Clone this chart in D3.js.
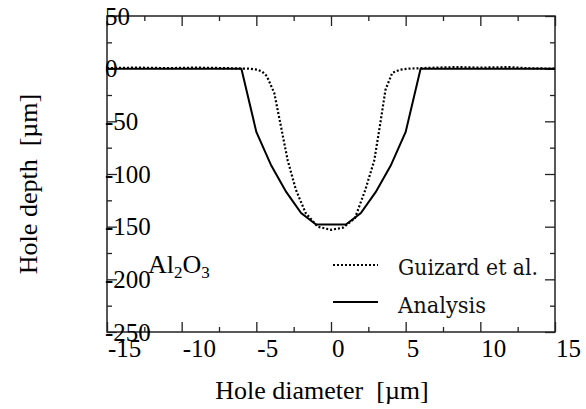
<!DOCTYPE html>
<html>
<head>
<meta charset="utf-8">
<script src="https://cdn.jsdelivr.net/npm/d3@7"></script>
<style>
  body { margin: 0; background: #fff; }
</style>
</head>
<body>
<div id="chart"></div>
<script>
// Data
var xTicks = [-15, -10, -5, 0, 5, 10, 15];
var yTicks = [50, 0, -50, -100, -150, -200, -250];
var seriesNames = ['Guizard et al.', 'Analysis'];

var guizardX = [-15, -13, -11, -9, -7, -5.5, -4.9, -4.6, -4.3, -3.8, -3.35, -2.9, -2.35, -1.7, -0.9, 0, 0.8, 1.6, 2.3, 2.9, 3.3, 3.65, 4.1, 4.6, 5.2, 7, 8.5, 10, 12, 13, 15];
var guizardY = [0.5, 1, 0.5, 1, 0.5, 0, -1, -3, -7, -23, -55, -87, -115, -137, -150, -153, -151, -142, -115, -87, -52, -20, -4, -1, 0, 1, 1.5, 1, 1.5, 0.5, 0];

var analysisX = [-15, -6, -5, -4, -3, -2, -1, 1, 2, 3, 4, 5, 6, 15];
var analysisY = [0, 0, -60, -92, -117, -137, -148, -148, -137, -117, -92, -60, 0, 0];

var attrs = {
  svgWidth: 586,
  svgHeight: 409,
  left: 107,
  right: 555,
  top: 16,
  bottom: 332,
  tickFont: 25,
  titleFont: 26,
  font: '"Liberation Serif", "Times New Roman", serif',
  legendFont: '"DejaVu Serif", serif',
  color: '#000'
};

var svg = d3.select('#chart').append('svg')
  .attr('width', attrs.svgWidth)
  .attr('height', attrs.svgHeight)
  .attr('font-family', attrs.font);

// scales
var x = d3.scaleLinear().domain([-15, 15]).range([attrs.left, attrs.right]);
var y = d3.scaleLinear().domain([-250, 50]).range([attrs.bottom, attrs.top]);

var minorX = d3.range(-12.5, 15, 5);
var minorY = d3.range(25, -250, -50);

// axes - inward ticks on all four sides
var axes = svg.append('g');

function tickSet(axis, pos, vals, size) {
  axes.append('g').attr('transform', pos)
    .call(axis.tickValues(vals).tickSize(-size).tickFormat(''))
    .call(g => g.select('.domain').remove());
}
tickSet(d3.axisBottom(x), 'translate(0,' + attrs.bottom + ')', xTicks, 10);
tickSet(d3.axisBottom(x), 'translate(0,' + attrs.bottom + ')', minorX, 5);
tickSet(d3.axisTop(x), 'translate(0,' + attrs.top + ')', xTicks, 10);
tickSet(d3.axisTop(x), 'translate(0,' + attrs.top + ')', minorX, 5);
tickSet(d3.axisLeft(y), 'translate(' + attrs.left + ',0)', yTicks, 10);
tickSet(d3.axisLeft(y), 'translate(' + attrs.left + ',0)', minorY, 5);
tickSet(d3.axisRight(y), 'translate(' + attrs.right + ',0)', yTicks, 10);
tickSet(d3.axisRight(y), 'translate(' + attrs.right + ',0)', minorY, 5);

axes.selectAll('line').attr('stroke', '#222').attr('stroke-width', 1.3);

axes.append('rect')
  .attr('x', attrs.left).attr('y', attrs.top)
  .attr('width', attrs.right - attrs.left)
  .attr('height', attrs.bottom - attrs.top)
  .attr('fill', 'none')
  .attr('stroke', '#222')
  .attr('stroke-width', 1.5);

// tick labels, hung off the tick (start-anchored) like the original
svg.append('g').selectAll('text').data(xTicks).join('text')
  .attr('x', d => x(d) + 1)
  .attr('y', attrs.bottom + 25)
  .attr('font-size', attrs.tickFont)
  .attr('fill', attrs.color)
  .text(d => d < 0 ? '-' + Math.abs(d) : d);

svg.append('g').selectAll('text').data(yTicks).join('text')
  .attr('x', attrs.left - 2)
  .attr('y', d => y(d))
  .attr('dy', '0.35em')
  .attr('font-size', attrs.tickFont)
  .attr('fill', attrs.color)
  .text(d => d < 0 ? '-' + Math.abs(d) : d);

// axis titles
svg.append('text')
  .attr('x', 322).attr('y', 399)
  .attr('text-anchor', 'middle')
  .attr('font-size', attrs.titleFont)
  .attr('xml:space', 'preserve')
  .text('Hole diameter  [\u00b5m]');

svg.append('text')
  .attr('transform', 'translate(37,184) rotate(-90)')
  .attr('text-anchor', 'middle')
  .attr('font-size', attrs.titleFont)
  .attr('xml:space', 'preserve')
  .text('Hole depth  [\u00b5m]');

// lines
var line = d3.line().x(d => x(d[0])).y(d => y(d[1]));

svg.append('path')
  .datum(d3.zip(guizardX, guizardY))
  .attr('d', line)
  .attr('fill', 'none')
  .attr('stroke', attrs.color)
  .attr('stroke-width', 2.2)
  .attr('stroke-dasharray', '2,2');

svg.append('path')
  .datum(d3.zip(analysisX, analysisY))
  .attr('d', line)
  .attr('fill', 'none')
  .attr('stroke', attrs.color)
  .attr('stroke-width', 2);

// material label
var mat = svg.append('text')
  .attr('x', 148).attr('y', 273)
  .attr('font-size', 26)
  .attr('fill', attrs.color);
mat.append('tspan').text('Al');
mat.append('tspan').attr('font-size', 17).attr('dy', 5).text('2');
mat.append('tspan').attr('dy', -5).text('O');
mat.append('tspan').attr('font-size', 17).attr('dy', 5).text('3');

// legend
var legend = svg.append('g');
var legendRows = [
  { name: seriesNames[0], dash: '2,2', w: 2.2, y: 265, base: 275, len: 140 },
  { name: seriesNames[1], dash: null, w: 2, y: 302, base: 313, len: 88 }
];
legendRows.forEach(function (r) {
  legend.append('line')
    .attr('x1', 333).attr('x2', 378)
    .attr('y1', r.y).attr('y2', r.y)
    .attr('stroke', attrs.color)
    .attr('stroke-width', r.w)
    .attr('stroke-dasharray', r.dash);
  legend.append('text')
    .attr('x', 398).attr('y', r.base)
    .attr('font-family', attrs.legendFont)
    .attr('font-size', 22)
    .attr('textLength', r.len)
    .attr('lengthAdjust', 'spacingAndGlyphs')
    .attr('fill', '#111')
    .text(r.name);
});
</script>
</body>
</html>
